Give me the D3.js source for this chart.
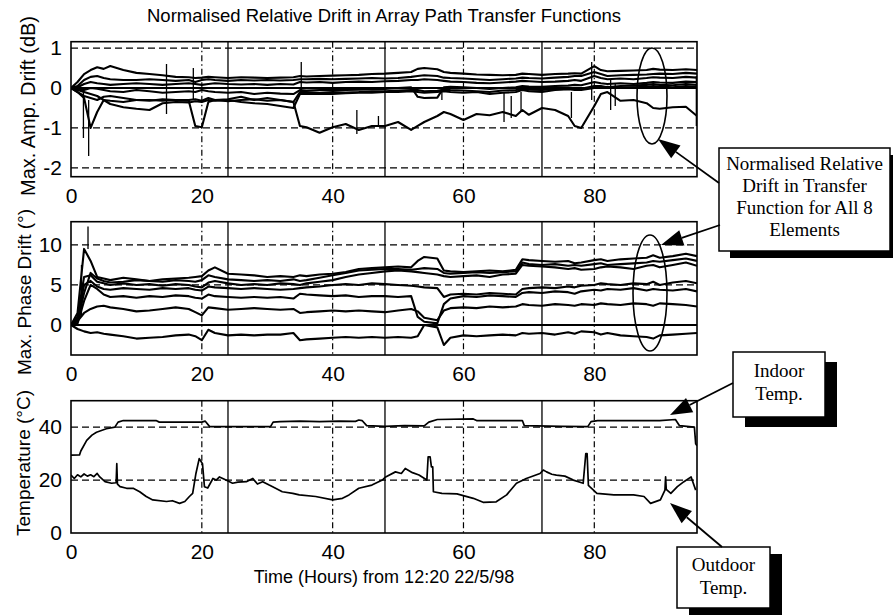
<!DOCTYPE html>
<html><head><meta charset="utf-8">
<script src="https://d3js.org/d3.v7.min.js"></script>
<style>body{margin:0;background:#fff}svg{display:block}</style>
</head><body><svg id="c" width="893" height="615"></svg>
<script>
// ---------- DATA ----------
const hours=[0,1,2,3,4,5,6, 8,10,12,14,16,18, 19,20,21,22, 24,26,28,30,32,34, 35,36,38,40,42,44,46,48,50,52, 53,54,56,57,58, 60,62,64,66,68, 69,70,72,74,76,77,78, 80,81,82,84,86,88,89,90,92,94,95.7];

// amplitude drift (dB), 8 elements
const amp1=[0,0.15,0.35,0.45,0.52,0.48,0.55, 0.45,0.38,0.35,0.32,0.28,0.27, 0.25,0.26,0.28,0.27, 0.25,0.27,0.26,0.25,0.26,0.27, 0.3,0.29,0.3,0.31,0.32,0.33,0.35,0.36,0.38,0.4, 0.48,0.5,0.47,0.4,0.38, 0.36,0.34,0.33,0.32,0.33, 0.36,0.35,0.33,0.35,0.36,0.37,0.36, 0.55,0.45,0.42,0.43,0.44,0.45,0.48,0.46,0.45,0.47,0.45];
const amp2=[0,0.05,0.2,0.28,0.3,0.25,0.22, 0.2,0.2,0.22,0.2,0.18,0.2, 0.15,0.2,0.22,0.2, 0.18,0.2,0.19,0.2,0.19,0.2, 0.22,0.22,0.23,0.22,0.23,0.24,0.25,0.24,0.25,0.28, 0.3,0.32,0.3,0.26,0.25, 0.24,0.22,0.2,0.22,0.24, 0.26,0.25,0.24,0.26,0.28,0.3,0.3, 0.4,0.35,0.3,0.32,0.33,0.34,0.35,0.36,0.35,0.38,0.36];
const amp3=[0,0.02,0.1,0.15,0.12,0.1,0.08, 0.1,0.12,0.1,0.08,0.1,0.12, 0.1,0.08,0.1,0.12, 0.1,0.09,0.1,0.08,0.1,0.09, 0.15,0.14,0.15,0.13,0.15,0.16,0.15,0.17,0.18,0.2, 0.2,0.22,0.2,0.18,0.16, 0.15,0.13,0.12,0.14,0.16, 0.18,0.17,0.15,0.16,0.18,0.2,0.18, 0.3,0.25,0.22,0.24,0.22,0.25,0.27,0.26,0.25,0.28,0.26];
const ampRef=[0,0,0,0,0,0,0, 0,0,0,0,0,0, 0,0,0,0, 0,0,0,0,0,0, 0,0,0,0,0,0,0,0,0,0, 0,0,0,0,0, 0,0,0,0,0, 0,0,0,0,0,0,0, 0,0,0,0,0,0,0,0,0,0,0];
const amp5=[0,-0.05,-0.05,0,-0.02,-0.05,-0.08, -0.1,-0.05,-0.08,-0.12,-0.1,-0.08, -0.1,-0.05,-0.08,-0.1, -0.12,-0.1,-0.15,-0.12,-0.14,-0.15, -0.05,-0.06,-0.05,-0.04,-0.05,-0.04,-0.03,-0.02,0,0.02, -0.22,-0.25,-0.24,0.02,0.03, 0.02,0,-0.02,0,0.02, 0.05,0.04,0.03,0.05,0.06,0.08,0.07, 0.15,0.12,0.1,0.12,0.1,0.13,0.15,0.14,0.13,0.16,0.15];
const amp6=[0,-0.1,-0.2,-0.25,-0.3,-0.22,-0.2, -0.25,-0.3,-0.32,-0.28,-0.3,-0.3, -0.28,-0.32,-0.25,-0.3, -0.28,-0.22,-0.3,-0.25,-0.3,-0.35, -0.1,-0.1,-0.12,-0.1,-0.11,-0.1,-0.08,-0.08,-0.06,-0.05, -0.05,-0.08,-0.07,-0.04,-0.05, -0.06,-0.08,-0.1,-0.06,-0.05, -0.03,-0.04,-0.05,-0.03,-0.02,0,-0.02, 0.05,0.05,0.02,0.05,0.06,0.08,0.1,0.08,0.07,0.1,0.08];
const amp7=[0,-0.05,-0.1,-0.15,-0.2,-0.3,-0.4, -0.48,-0.52,-0.55,-0.38,-0.35,-0.36, -0.33,-0.35,-0.3,-0.32, -0.3,-0.35,-0.38,-0.4,-0.45,-0.5, -0.15,-0.15,-0.14,-0.15,-0.13,-0.12,-0.12,-0.1,-0.1,-0.08, -0.1,-0.12,-0.1,-0.08,-0.1, -0.12,-0.1,-0.15,-0.12,-0.1, -0.05,-0.08,-0.1,-0.05,-0.03,-0.05,-0.05, 0,0,0.03,0,0.02,0.03,0.05,0.04,0.02,0.05,0.03];
const amp8=[0,-0.1,-0.25,-1.0,-0.6,-0.3,-0.32, -0.35,-0.3,-0.3,-0.32,-0.3,-0.32, -0.95,-0.98,-0.35,-0.3, -0.33,-0.3,-0.28,-0.32,-0.3,-0.35, -0.95,-0.98,-1.12,-0.98,-0.9,-1.05,-0.95,-0.95,-0.85,-1.05, -0.95,-0.85,-0.7,-0.6,-0.65, -0.8,-0.65,-0.68,-0.6,-0.7, -0.55,-0.67,-0.5,-0.55,-0.7,-0.95,-1.0, -0.45,-0.15,-0.1,-0.32,-0.3,-0.38,-0.5,-0.52,-0.48,-0.47,-0.7];
// short vertical glitches: [hour, from, to]
const ampSpikes=[[1.9,-0.1,-1.25],[2.7,-0.3,-1.7],[14.6,0.6,-0.65],[18.7,0.5,-0.3],[35.2,0.65,-0.1],[43.7,-0.55,-1.15],[47,-0.7,-0.95],[56.7,-0.3,0.0],[66.2,-0.1,-0.85],[67.3,-0.2,-0.75],[68.8,-0.1,-0.6],[76.5,-0.1,-0.75],[79.6,0.65,-0.3],[82.5,0.2,-0.55],[83.2,0.1,-0.45],[95.6,0.3,-0.95]];

// phase drift (deg), 8 elements
const phA=[0,1.5,9.5,8.0,6.0,5.8,5.6, 5.9,5.7,5.5,5.7,5.8,5.9, 6.0,6.1,6.8,7.2, 6.4,6.3,6.2,6.0,6.1,6.0, 6.2,6.1,6.3,6.4,6.6,7.0,7.1,7.2,7.3,7.2, 8.0,8.5,8.3,6.8,6.7, 6.6,6.7,6.8,6.7,6.9, 8.2,8.1,8.0,7.9,8.0,7.7,7.8, 8.1,8.2,8.0,8.2,8.3,8.4,8.7,8.4,8.6,8.9,8.6];
const phB=[0,1.0,6.0,6.2,5.4,5.2,5.0, 5.2,5.0,5.1,4.9,5.1,5.0, 4.8,4.7,5.3,5.5, 5.2,5.0,5.1,5.0,5.2,5.1, 5.0,5.2,5.4,5.6,6.0,6.3,6.5,6.7,6.8,6.7, 6.6,6.5,6.3,6.1,6.0, 6.1,6.2,6.0,6.3,6.4, 7.5,7.4,7.3,7.2,7.0,7.1,6.9, 7.0,7.2,7.3,7.2,7.0,7.4,7.5,7.2,7.5,7.8,7.4];
const phB2=[0,0.5,4.0,6.5,5.8,5.5,5.3, 5.4,5.6,5.5,5.4,5.6,5.5, 5.4,5.6,6.2,6.0, 5.7,5.6,5.5,5.6,5.5,5.7, 5.5,5.6,5.9,6.2,6.5,6.8,6.9,7.0,7.0,6.9, 7.0,7.1,7.0,6.5,6.4, 6.5,6.6,6.5,6.6,6.7, 7.8,7.6,7.5,7.6,7.4,7.5,7.4, 7.6,7.7,7.5,7.6,7.7,7.8,8.0,7.9,8.1,8.3,8.0];
const phC2=[0,0.8,5.0,5.5,4.8,4.5,4.4, 4.6,4.5,4.4,4.6,4.5,4.6, 4.4,4.3,4.8,4.7, 4.6,4.5,4.6,4.5,4.4,4.5, 4.6,4.7,4.8,5.0,5.1,5.0,5.2,5.1,5.0,4.9, 4.8,4.7,4.6,3.5,3.8, 3.9,3.8,4.0,3.9,3.8, 4.5,4.6,4.7,4.6,4.8,4.7,4.9, 5.0,5.2,5.1,5.0,5.2,5.1,5.4,5.0,5.3,5.5,5.2];
const phC=[0,0.2,3.0,5.0,4.5,3.8,3.5, 3.6,3.4,3.6,3.5,3.7,3.6, 3.4,3.3,3.8,3.6, 3.5,3.4,3.5,3.4,3.5,3.3, 3.9,3.8,3.7,3.6,3.7,3.5,3.6,3.6,3.5,3.6, 1.0,0.4,0.2,2.6,3.3, 3.6,3.5,3.7,3.6,3.5, 4.0,4.1,4.0,4.2,4.1,3.9,4.2, 4.4,4.3,4.5,4.4,4.6,4.3,4.5,4.4,4.3,4.5,4.2];
const phD=[0,0.5,1.5,2.0,2.3,2.4,2.2, 2.0,1.7,1.8,2.0,2.2,2.0, 1.6,1.2,2.2,2.1, 1.9,2.0,2.1,2.0,1.9,2.0, 1.5,1.6,1.7,1.8,1.7,1.8,1.7,1.6,1.8,2.0, 1.7,0.9,0.6,1.8,2.1, 2.2,2.1,2.3,2.2,2.3, 2.6,2.5,2.4,2.6,2.5,2.4,2.6, 2.5,2.7,2.6,2.5,2.7,2.6,2.4,2.7,2.6,2.5,2.3];
const phRef=[0,0,0,0,0,0,0, 0,0,0,0,0,0, 0,0,0,0, 0,0,0,0,0,0, 0,0,0,0,0,0,0,0,0,0, 0,0,0,0,0, 0,0,0,0,0, 0,0,0,0,0,0,0, 0,0,0,0,0,0,0,0,0,0,0];
const phF=[0,-0.5,-0.8,-1.0,-0.9,-1.1,-1.2, -1.4,-1.7,-1.6,-1.5,-1.3,-1.2, -1.4,-1.9,-0.6,-1.0, -1.3,-1.2,-1.3,-1.2,-1.2,-1.0, -1.9,-1.8,-1.7,-1.6,-1.5,-1.6,-1.5,-1.6,-1.5,-1.6, -1.4,0.0,-0.3,-2.5,-1.6, -1.3,-1.4,-1.3,-1.2,-1.3, -1.0,-1.1,-1.0,-1.2,-0.9,-1.1,-0.8, -0.9,-1.2,-1.0,-1.3,-1.4,-1.5,-1.7,-1.3,-1.2,-1.1,-1.0];
const phaseSpikes=[[1.6,1.0,7.5],[2.6,9.5,12.3]];

// temperatures [hour, degC]
const indoorTemp=[[0,29.4],[1.3,29.5],[1.5,31],[2.4,35],[3.2,37],[3.9,38.1],[5.4,39.4],[6.7,40],[7.2,41.9],[8,42.5],[13,42.5],[13.5,41.9],[20,41.9],[20.5,42.3],[21.2,40.2],[30.5,40.2],[30.9,41.9],[32,42.1],[35,42.3],[38,42.1],[41,42.3],[43.5,42.2],[44,42.7],[44.5,42.5],[45.2,40.6],[48,40.3],[51,40.6],[54,40.5],[54.7,41.9],[56,42.9],[61.5,43.1],[62,42.5],[69,42.5],[69.3,40.6],[75,40.3],[79,40.2],[79.5,42.1],[80.5,42.5],[90,42.5],[92.4,42.9],[93,40.6],[95.3,40],[95.5,33.7],[95.7,33]];
const outdoorTemp=[[0,21.9],[0.5,20.6],[1,22],[1.5,21.2],[2,22.3],[2.5,21.5],[3,22],[3.5,21.3],[4,22.5],[4.4,21.2],[5.2,19.4],[6.2,18.8],[6.9,19],[7,26.2],[7.1,18.5],[7.5,17.5],[8.5,16.9],[9.5,16.9],[10.5,15.6],[11.5,13.8],[12.5,12.5],[14.6,11.9],[15.5,12.2],[16.6,11.2],[17.4,11.9],[18.1,13.8],[18.6,15],[19.1,22.5],[19.6,28.1],[20.1,26.2],[20.4,17.5],[20.9,17],[21.7,20.6],[22.2,20],[22.7,21.2],[23.7,20],[24.7,18.8],[25.5,19.2],[26.8,19.4],[27.8,20.6],[28.5,18.5],[29.3,19.4],[30.3,18.1],[31.2,17],[32.3,15.6],[33.9,15],[34.9,14.4],[37.4,13.8],[40,12.5],[41.5,13.1],[42.5,14.4],[44,16.9],[46,18.1],[47.6,20],[48.1,21.2],[49.6,23.1],[50.5,22.5],[51.1,24.4],[52.2,22.8],[53.2,21.9],[54.4,20],[54.6,28.8],[54.9,28.8],[55.1,25],[55.3,25],[55.4,15.6],[56.7,15],[59,14.8],[61.5,13.1],[63,11.6],[65,11.8],[66.6,14.4],[68.1,18.8],[69.6,20.6],[71.7,22.5],[72.2,23.8],[72.7,23.1],[73.5,22.2],[74.2,21.9],[75.5,21.5],[76.8,20],[78.3,18.8],[78.7,30],[78.9,30],[79.1,18],[79.3,17.5],[80.4,15],[83,14.4],[86,14.4],[87.6,13.8],[88.6,11.2],[90.1,12.5],[90.8,16.2],[90.9,21.2],[91,16.5],[91.7,15],[92.7,17.5],[93.7,19.4],[94.8,21.2],[95.5,16.2]];

const xTicks=[0,20,40,60,80];
const dayMarks=[24,48,72];
const ampTicks=[-2,-1,0,1], ampTickLabels=["-2","-1","0","1"];
const phaseTicks=[0,5,10], phaseTickLabels=["0","5","10"];
const tempTicks=[0,20,40], tempTickLabels=["0","20","40"];

const titleText="Normalised Relative Drift in Array Path Transfer Functions";
const xLabelText="Time (Hours) from 12:20 22/5/98";
const noteDrift=["Normalised Relative","Drift in Transfer","Function for All 8","Elements"];
const noteIndoor=["Indoor","Temp."];
const noteOutdoor=["Outdoor","Temp."];

// ---------- DRAWING ----------
const svg=d3.select('#c');
svg.append('rect').attr('width',893).attr('height',615).attr('fill','#fff');
const sans='"Liberation Sans", Arial, Helvetica, sans-serif';
const serif='"Liberation Serif", "Times New Roman", Times, serif';
const x=d3.scaleLinear().domain([0,95.7]).range([71,697]);
const zip=v=>hours.map((h,i)=>[h,v[i]]);

const panels=[
 {top:41.7,bottom:176.7,dom:[-2.22,1.16],ticks:ampTicks,labels:ampTickLabels,grid:ampTicks,
  series:[amp1,amp2,amp3,ampRef,amp5,amp6,amp7,amp8].map(zip),spikes:ampSpikes,ylab:"Max. Amp. Drift (dB)",lx:28,ly:106,fs:20,sw:2.1},
 {top:221.7,bottom:355,dom:[-3.75,12.9],ticks:phaseTicks,labels:phaseTickLabels,grid:phaseTicks,
  series:[phA,phB,phB2,phC2,phC,phD,phRef,phF].map(zip),spikes:phaseSpikes,ylab:"Max. Phase Drift (°)",lx:24,ly:292,fs:19,sw:2.1},
 {top:400.7,bottom:533,dom:[0,50],ticks:tempTicks,labels:tempTickLabels,grid:[20,40],
  series:[indoorTemp,outdoorTemp],spikes:[],ylab:"Temperature (°C)",lx:23,ly:463,fs:19,sw:1.7}
];

panels.forEach((p,pi)=>{
  const y=d3.scaleLinear().domain(p.dom).range([p.bottom,p.top]);
  const g=svg.append('g');
  const cid='clip'+pi;
  svg.append('clipPath').attr('id',cid).append('rect')
    .attr('x',71).attr('y',p.top).attr('width',697-71).attr('height',p.bottom-p.top);
  // grid
  const grid=g.append('g').attr('stroke','#000').attr('fill','none');
  p.grid.forEach(v=>grid.append('line').attr('x1',71).attr('x2',697).attr('y1',y(v)).attr('y2',y(v))
     .attr('stroke-width',1.2).attr('stroke-dasharray','7,4'));
  xTicks.filter(v=>v>0).forEach(v=>grid.append('line').attr('x1',x(v)).attr('x2',x(v)).attr('y1',p.top).attr('y2',p.bottom)
     .attr('stroke-width',1.2).attr('stroke-dasharray','6,3,1.5,3'));
  dayMarks.forEach(v=>grid.append('line').attr('x1',x(v)).attr('x2',x(v)).attr('y1',p.top).attr('y2',p.bottom)
     .attr('stroke-width',1.3));
  // data
  const line=d3.line().x(d=>x(d[0])).y(d=>y(d[1]));
  const dg=g.append('g').attr('clip-path',`url(#${cid})`);
  p.series.forEach(s=>dg.append('path').attr('d',line(s)).attr('fill','none')
     .attr('stroke','#000').attr('stroke-width',p.sw).attr('stroke-linejoin','round'));
  p.spikes.forEach(s=>dg.append('line').attr('x1',x(s[0])).attr('x2',x(s[0])).attr('y1',y(s[1])).attr('y2',y(s[2]))
     .attr('stroke','#000').attr('stroke-width',1.3));
  // frame
  g.append('rect').attr('x',71).attr('y',p.top).attr('width',697-71).attr('height',p.bottom-p.top)
    .attr('fill','none').attr('stroke','#000').attr('stroke-width',1.6);
  // axes
  const ya=g.append('g').attr('transform','translate(71,0)')
    .call(d3.axisLeft(y).tickValues(p.ticks).tickFormat((d,i)=>p.labels[i]).tickSize(0).tickPadding(9));
  const xa=g.append('g').attr('transform',`translate(0,${p.bottom})`)
    .call(d3.axisBottom(x).tickValues(xTicks).tickFormat(d3.format('d')).tickSize(0).tickPadding(11.5));
  [ya,xa].forEach(a=>{a.select('.domain').remove();
    a.selectAll('text').attr('font-family',sans).attr('font-size',21).attr('fill','#000');});
  // y label
  svg.append('text').attr('transform',`translate(${p.lx},${p.ly}) rotate(-90)`)
    .attr('text-anchor','middle').attr('dy','0.35em').attr('font-family',sans).attr('font-size',p.fs)
    .text(p.ylab);
});

// title & x label
svg.append('text').attr('x',384).attr('y',22).attr('text-anchor','middle')
  .attr('font-family',sans).attr('font-size',18.5).text(titleText);
svg.append('text').attr('x',384).attr('y',583).attr('text-anchor','middle')
  .attr('font-family',sans).attr('font-size',18).text(xLabelText);

// ellipses
[[652,96,15,48],[650,293,17,58]].forEach(e=>svg.append('ellipse').attr('cx',e[0]).attr('cy',e[1])
  .attr('rx',e[2]).attr('ry',e[3]).attr('fill','none').attr('stroke','#000').attr('stroke-width',1.6));

// arrows
function arrow(x1,y1,x2,y2){
  const dx=x2-x1,dy=y2-y1,L=Math.hypot(dx,dy),ux=dx/L,uy=dy/L,hl=22,hw=8;
  const bx=x2-ux*hl,by=y2-uy*hl;
  svg.append('line').attr('x1',x1).attr('y1',y1).attr('x2',bx).attr('y2',by).attr('stroke','#000').attr('stroke-width',1.8);
  svg.append('path').attr('d',`M${x2},${y2}L${bx-uy*hw},${by+ux*hw}L${bx+uy*hw},${by-ux*hw}Z`).attr('fill','#000');
}
// note boxes
function note(bx,by,w,h,sx,sy,lines,cy,gap){
  svg.append('rect').attr('x',bx+sx).attr('y',by+sy).attr('width',w).attr('height',h).attr('fill','#000');
  svg.append('rect').attr('x',bx).attr('y',by).attr('width',w).attr('height',h).attr('fill','#fff')
    .attr('stroke','#000').attr('stroke-width',1.5);
  lines.forEach((t,i)=>svg.append('text').attr('x',bx+w/2).attr('y',cy+i*gap).attr('dy','0.35em')
    .attr('text-anchor','middle').attr('font-family',serif).attr('font-size',19).text(t));
}
note(719,148,171,103,11,7,noteDrift,163,22);
arrow(719,183,658,139);
arrow(720,225,661,245);
note(733,352,92,65,12,10,noteIndoor,370,23);
arrow(733,383,670,415);
note(677,547,93,61,12,7,noteOutdoor,564,23);
arrow(722,547,670,503);
</script></body></html>
